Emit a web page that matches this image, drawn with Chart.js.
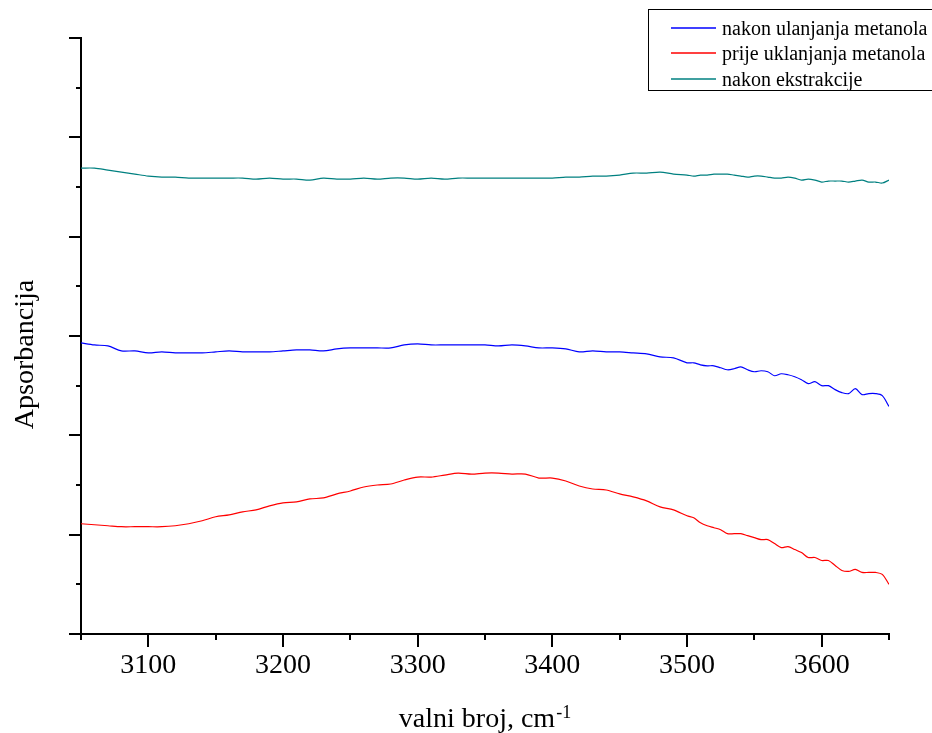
<!DOCTYPE html>
<html><head><meta charset="utf-8">
<script src="https://cdn.jsdelivr.net/npm/chart.js@4.4.1/dist/chart.umd.min.js"></script>
<style>html,body{margin:0;padding:0;background:#fff;}canvas{display:block;}</style>
</head><body>
<canvas id="c" width="932" height="733"></canvas>
<script>
// Wavenumbers (cm^-1)
const wavenumbers = [
 3050,3060,3070,3080,3090,3100,3110,3120,3130,3140,
 3150,3160,3170,3180,3190,3200,3210,3220,3230,3240,
 3250,3260,3270,3280,3290,3300,3310,3320,3330,3340,
 3350,3360,3370,3380,3390,3400,3410,3420,3430,3440,
 3450,3460,3470,3480,3490,
 3500,3505,3510,3515,3520,3525,3530,3535,3540,3545,
 3550,3555,3560,3565,3570,3575,3580,3585,3590,3595,
 3600,3605,3610,3615,3620,3625,3630,3635,3640,3645,3650
];
// nakon ulanjanja metanola (blue)
const nakonUlanjanja = [
 2.93,2.91,2.90,2.85,2.85,2.83,2.84,2.83,2.83,2.83,
 2.84,2.85,2.84,2.84,2.84,2.85,2.86,2.86,2.85,2.87,
 2.88,2.88,2.88,2.88,2.91,2.92,2.91,2.91,2.91,2.91,
 2.91,2.90,2.91,2.90,2.88,2.88,2.87,2.84,2.85,2.84,
 2.84,2.83,2.82,2.79,2.78,
 2.73,2.73,2.71,2.70,2.70,2.68,2.66,2.67,2.69,2.66,
 2.64,2.65,2.64,2.60,2.62,2.61,2.59,2.56,2.52,2.54,
 2.50,2.50,2.46,2.43,2.42,2.47,2.41,2.42,2.42,2.40,2.29
];
// prije uklanjanja metanola (red)
const prijeUklanjanja = [
 1.11,1.10,1.09,1.08,1.08,1.08,1.08,1.09,1.11,1.14,
 1.18,1.20,1.23,1.25,1.29,1.32,1.33,1.36,1.37,1.41,
 1.44,1.48,1.50,1.51,1.55,1.58,1.58,1.60,1.62,1.61,
 1.62,1.62,1.61,1.61,1.57,1.57,1.54,1.49,1.46,1.45,
 1.41,1.38,1.34,1.28,1.25,
 1.19,1.17,1.12,1.09,1.07,1.05,1.01,1.01,1.01,0.99,
 0.97,0.95,0.95,0.91,0.87,0.88,0.85,0.82,0.77,0.77,
 0.74,0.74,0.69,0.64,0.63,0.65,0.62,0.62,0.62,0.60,0.50
];
// nakon ekstrakcije (teal)
const nakonEkstrakcije = [
 4.69,4.69,4.67,4.65,4.63,4.61,4.60,4.60,4.59,4.59,
 4.59,4.59,4.59,4.58,4.59,4.58,4.58,4.57,4.59,4.58,
 4.58,4.59,4.58,4.59,4.59,4.58,4.59,4.58,4.59,4.59,
 4.59,4.59,4.59,4.59,4.59,4.59,4.60,4.60,4.61,4.61,
 4.62,4.64,4.64,4.65,4.63,
 4.62,4.61,4.62,4.62,4.63,4.63,4.63,4.62,4.61,4.60,
 4.61,4.61,4.60,4.59,4.59,4.60,4.59,4.57,4.58,4.57,
 4.55,4.56,4.56,4.56,4.55,4.56,4.57,4.55,4.55,4.54,4.57
];
const seriesLabels = ['nakon ulanjanja metanola','prije uklanjanja metanola','nakon ekstrakcije'];
const seriesColors = ['#0000ff','#ff0000','#008080'];
const xTickLabels = [3100,3200,3300,3400,3500,3600];
const xTitleMain = 'valni broj, cm';
const xTitleSup = '-1';
const yTitle = 'Apsorbancija';

const SERIF = "'Liberation Serif','Times New Roman',serif";
const toPoints = arr => arr.map((v,i)=>({x:wavenumbers[i], y:v}));

const decor = {
  id:'decor',
  afterDraw(chart){
    const {ctx, scales:{x,y}, chartArea:a} = chart;
    ctx.save();
    ctx.strokeStyle='#000'; ctx.lineWidth=2; ctx.lineCap='butt';
    x.ticks.forEach(t=>{
      const px = Math.round(x.getPixelForValue(t.value));
      const major = t.value % 100 === 0;
      ctx.beginPath(); ctx.moveTo(px, a.bottom); ctx.lineTo(px, a.bottom + (major?13:6)); ctx.stroke();
    });
    y.ticks.forEach(t=>{
      const py = Math.round(y.getPixelForValue(t.value));
      const major = Math.abs(t.value - Math.round(t.value)) < 1e-6;
      ctx.beginPath(); ctx.moveTo(a.left, py); ctx.lineTo(a.left-(major?12:5), py); ctx.stroke();
    });
    // axis titles
    ctx.fillStyle='#000';
    ctx.textBaseline='alphabetic';
    ctx.font = '28px ' + SERIF;
    const w1 = ctx.measureText(xTitleMain).width;
    ctx.font = '18px ' + SERIF;
    const w2 = ctx.measureText(xTitleSup).width;
    const cx = (a.left + a.right)/2;
    const x0 = cx - (w1 + w2 + 1)/2;
    ctx.textAlign='left';
    ctx.font = '28px ' + SERIF;
    ctx.fillText(xTitleMain, x0, 727);
    ctx.font = '18px ' + SERIF;
    ctx.fillText(xTitleSup, x0 + w1 + 1, 718);
    ctx.save();
    ctx.translate(33, 354.5);
    ctx.rotate(-Math.PI/2);
    ctx.textAlign='center';
    ctx.font = '28px ' + SERIF;
    ctx.fillText(yTitle, 0, 0);
    ctx.restore();
    // legend
    ctx.lineWidth=1;
    ctx.strokeStyle='#000';
    ctx.strokeRect(648.5, 9.5, 300, 81);
    const rows = [28, 53, 79];
    ctx.font = '20px ' + SERIF;
    ctx.textAlign='left';
    ctx.lineWidth=1.5;
    for (let i = 0; i < seriesLabels.length; i++) {
      ctx.beginPath();
      ctx.strokeStyle = seriesColors[i];
      ctx.moveTo(671, rows[i]);
      ctx.lineTo(716, rows[i]);
      ctx.stroke();
      ctx.fillStyle='#000';
      ctx.fillText(seriesLabels[i], 722, rows[i]+7);
    }
    ctx.restore();
  }
};

new Chart(document.getElementById('c'), {
  type:'line',
  data:{
    datasets:[
      {label:seriesLabels[0], data:toPoints(nakonUlanjanja), borderColor:seriesColors[0]},
      {label:seriesLabels[1], data:toPoints(prijeUklanjanja), borderColor:seriesColors[1]},
      {label:seriesLabels[2], data:toPoints(nakonEkstrakcije), borderColor:seriesColors[2]}
    ]
  },
  options:{
    responsive:false,
    animation:false,
    layout:{padding:{top:38, right:43, left:0, bottom:0}},
    elements:{
      point:{radius:0},
      line:{borderWidth:1.2, tension:0.3, fill:false}
    },
    plugins:{legend:{display:false}, tooltip:{enabled:false}},
    scales:{
      x:{
        type:'linear', min:3050, max:3650,
        grid:{display:false},
        border:{display:true, color:'#000', width:2},
        ticks:{
          stepSize:50, autoSkip:false, maxRotation:0, padding:7,
          color:'#000', font:{family:SERIF, size:28},
          callback:v => xTickLabels.includes(v) ? String(v) : ''
        },
        afterFit:s=>{ s.height = 99; }
      },
      y:{
        type:'linear', min:0, max:6,
        grid:{display:false},
        border:{display:true, color:'#000', width:2},
        ticks:{display:false, stepSize:0.5},
        afterFit:s=>{ s.width = 81; }
      }
    }
  },
  plugins:[decor]
});
</script>
</body></html>
